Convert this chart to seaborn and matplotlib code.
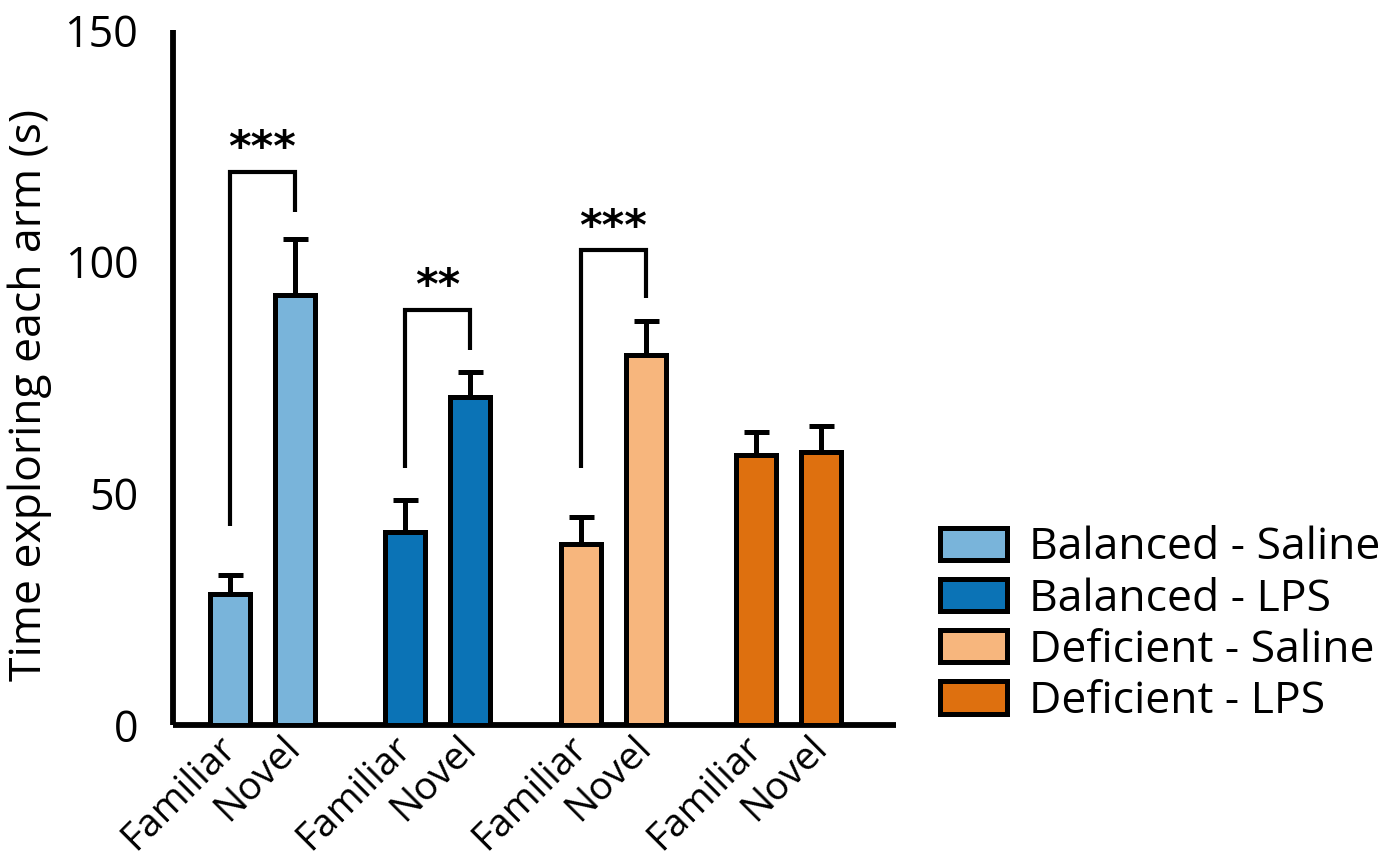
import matplotlib
matplotlib.use("Agg")
import matplotlib.pyplot as plt
import matplotlib.patches as mpatches
import matplotlib.transforms as mtransforms
import numpy as np
import pandas as pd
import seaborn as sns

# ---- data -----------------------------------------------------------------
groups = ["Balanced - Saline", "Balanced - LPS", "Deficient - Saline", "Deficient - LPS"]
arms = ["Familiar", "Novel"]
familiar_mean = [28.2, 41.6, 39.0, 58.2]
novel_mean = [92.7, 70.7, 79.8, 58.9]
familiar_sem = [4.2, 6.9, 5.8, 5.0]
novel_sem = [12.1, 5.4, 7.5, 5.6]
colors = ["#79B4DA", "#0B73B6", "#F7B67D", "#DE700F"]

# significance brackets: group index, label, bracket top, familiar leg end, novel leg end
sig_groups = [0, 1, 2]
sig_labels = ["***", "**", "***"]
sig_top = [119.4, 89.6, 102.5]
sig_left_end = [43.0, 55.5, 55.5]
sig_right_end = [110.7, 80.9, 92.2]

# ---- layout ---------------------------------------------------------------
group_step = 2.7
positions, means, sems, hue, ticklabels = [], [], [], [], []
for g, name in enumerate(groups):
    for a, (m, s) in enumerate([(familiar_mean[g], familiar_sem[g]), (novel_mean[g], novel_sem[g])]):
        positions.append(g * group_step + a)
        means.append(m)
        sems.append(s)
        hue.append(name)
        ticklabels.append(arms[a])

df = pd.DataFrame({"pos": positions, "mean": means, "sem": sems, "group": hue})

sns.set_style("white")
plt.rcParams["font.family"] = ["Open Sans", "DejaVu Sans"]
plt.rcParams.update({"text.color": "black", "axes.labelcolor": "black",
                     "xtick.color": "black", "ytick.color": "black"})

fig = plt.figure(figsize=(13.93, 8.56), dpi=100)
ax = fig.add_axes([0.1242, 0.1530, 0.643 - 0.1242, 0.965 - 0.1530])

lw = 3.6
sns.barplot(data=df, x="pos", y="mean", hue="group", hue_order=groups,
            palette=dict(zip(groups, colors)), saturation=1, native_scale=True,
            dodge=False, width=0.62, errorbar=None, edgecolor="black", linewidth=lw,
            legend=False, ax=ax, zorder=3)

ax.errorbar(df["pos"], df["mean"], yerr=[np.zeros(len(df)), df["sem"]],
            fmt="none", ecolor="black", elinewidth=lw, capsize=9, capthick=lw, zorder=2)

# significance brackets
for g, lab, top, le, re in zip(sig_groups, sig_labels, sig_top, sig_left_end, sig_right_end):
    x0 = g * group_step
    x1 = x0 + 1
    ax.plot([x0, x0, x1, x1], [le, top, top, re], color="black", lw=3.0,
            solid_joinstyle="miter", solid_capstyle="butt", zorder=4)
    ax.text((x0 + x1) / 2, top + 0.3, lab, ha="center", va="bottom", color="black",
            fontsize=31, fontweight="bold", family=["DejaVu Sans"])

# axes styling
ax.set_xlim(-0.877, 10.25)
ax.set_ylim(0, 150)
ax.set_yticks([0, 50, 100, 150])
ax.set_xticks(positions)
ax.set_xticklabels(ticklabels, rotation=45, ha="right", va="center",
                   rotation_mode="anchor")
shift = mtransforms.ScaledTranslation(-7 / 100, 4 / 100, fig.dpi_scale_trans)
for lab in ax.get_xticklabels():
    lab.set_transform(lab.get_transform() + shift)
ax.tick_params(axis="y", length=15, width=lw, labelsize=31, pad=10, color="black")
ax.tick_params(axis="x", length=0, labelsize=28, pad=12)
ax.set_ylabel("Time exploring each arm (s)", fontsize=32)
ax.yaxis.set_label_coords(-0.168, 0.475)
ax.set_xlabel("")
for side in ["top", "right"]:
    ax.spines[side].set_visible(False)
for side in ["left", "bottom"]:
    ax.spines[side].set_linewidth(4.2)
    ax.spines[side].set_color("black")
    ax.spines[side].set_capstyle("butt")

handles = [mpatches.Patch(facecolor=c, edgecolor="black", linewidth=lw) for c in colors]
fig.legend(handles, groups, loc="center left", bbox_to_anchor=(0.675, 0.270),
           fontsize=32, frameon=False, handlelength=1.5, handleheight=0.75,
           handletextpad=0.5, labelspacing=0.15, borderpad=0, borderaxespad=0)

fig.savefig("out.png", dpi=100)
